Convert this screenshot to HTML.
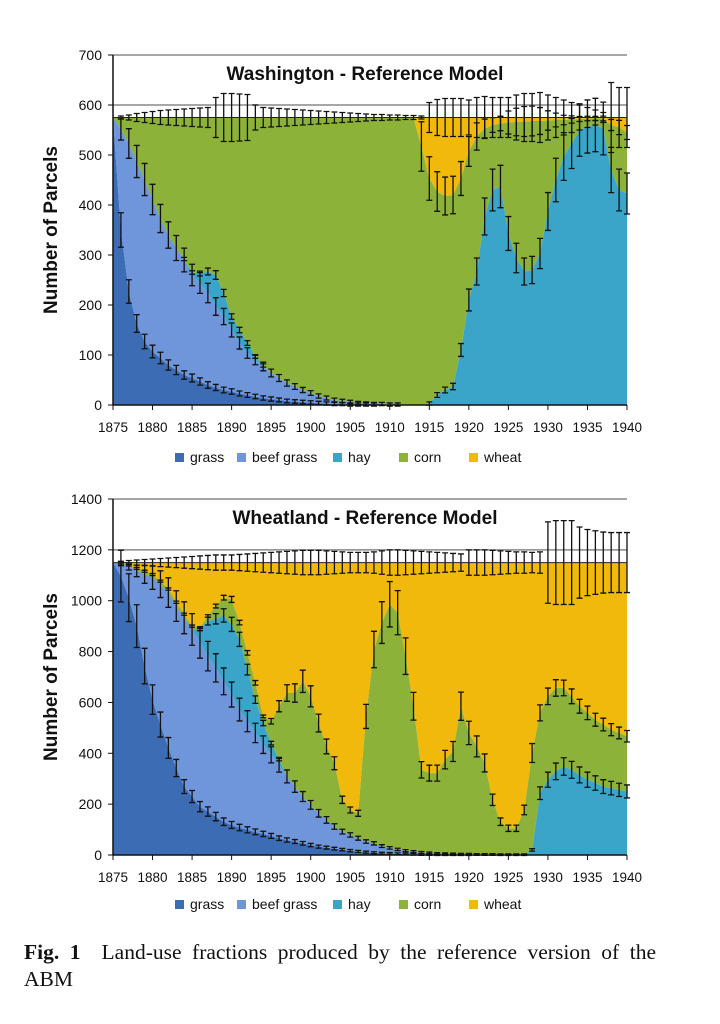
<!DOCTYPE html>
<html><head><meta charset="utf-8">
<style>
body{margin:0;background:#fff;width:720px;height:1024px;overflow:hidden;position:relative;font-family:"Liberation Sans",sans-serif}
svg{position:absolute;left:0;top:0}
.cap{position:absolute;left:24px;width:632px;font-family:"Liberation Serif",serif;font-size:21.5px;line-height:27px;color:#111;white-space:nowrap}
.l1{top:939px;text-align:justify;text-align-last:justify}
.l2{top:966px}
</style></head><body>
<svg id="chart" width="720" height="1024"></svg>
<div class="cap l1"><b>Fig. 1</b>&nbsp; Land-use fractions produced by the reference version of the</div>
<div class="cap l2">ABM</div>
<script>
const years = [];
for (let y = 1875; y <= 1940; y++) years.push(y);
const seriesNames = ["grass","beef grass","hay","corn","wheat"];
const seriesColors = ["#3c6db4","#6f95da","#3aa5c9","#8db23a","#f0b90c"];

// Washington
const waGrass = [575,350,227,163,127,107,94,80,70,60,54,47,40,35,30,27,23,20,17,14,12,10,8,7,6,5,4,3,2,2,1,1,1,1,0,0,0,0,0,0,0,0,0,0,0,0,0,0,0,0,0,0,0,0,0,0,0,0,0,0,0,0,0,0,0,0];
const waBeef = [0,201,296,324,324,304,279,260,244,230,206,197,184,162,147,123,101,84,73,63,52,44,36,30,24,19,14,11,8,6,5,3,2,1,2,1,1,0,0,0,0,0,0,0,0,0,0,0,0,0,0,0,0,0,0,0,0,0,0,0,0,0,0,0,0,0];
const waHay = [0,0,0,0,0,0,0,0,0,2,5,19,43,63,47,27,26,20,7,2,0,0,0,0,0,0,0,0,0,0,0,0,0,0,0,0,0,0,0,0,3,20,30,37,110,210,267,377,430,437,343,294,267,270,303,387,450,497,523,550,557,560,553,470,430,423];
const waCorn = [0,24,52,88,124,164,202,235,261,283,310,312,308,315,351,398,425,451,478,496,511,521,531,538,545,551,557,561,565,567,569,571,572,573,573,574,574,575,575,517,450,407,388,383,343,297,270,176,130,126,222,272,300,298,265,182,120,73,48,22,16,13,20,90,125,122];
const waWheat = [0,0,0,0,0,0,0,0,0,0,0,0,0,0,0,0,0,0,0,0,0,0,0,0,0,0,0,0,0,0,0,0,0,0,0,0,0,0,0,58,122,148,157,155,122,68,38,22,15,12,10,9,8,7,7,6,5,5,4,3,2,2,2,15,20,30];
const waTotalErr = [0,3,5,8,10,12,14,15,16,17,18,19,20,40,48,48,47,46,25,20,19,18,17,16,15,14,13,12,11,10,9,8,7,6,6,5,5,4,4,3,30,36,38,38,38,35,40,42,40,40,40,45,48,48,50,45,40,35,30,25,20,15,10,70,60,60];
const waTicks = [0,100,200,300,400,500,600,700];

// Wheatland
const whGrass = [1150,1097,1012,900,743,611,513,421,342,269,230,190,171,151,131,118,108,99,91,83,75,66,59,53,46,39,33,29,25,21,17,14,11,9,7,6,5,4,3,2,2,1,1,1,1,1,0,0,0,0,0,0,0,0,0,0,0,0,0,0,0,0,0,0,0,0];
const whBeef = [0,48,123,217,361,480,552,611,637,664,657,645,611,585,552,513,464,427,389,351,319,289,250,216,184,158,131,109,87,71,62,52,42,37,28,22,17,13,10,8,6,5,4,3,2,2,2,2,2,1,1,1,1,0,0,0,0,0,0,0,0,0,0,0,0,0];
const whHay = [0,0,0,0,0,0,0,0,0,0,0,55,138,193,259,276,276,203,131,85,46,20,0,0,0,0,0,0,0,0,0,0,0,0,0,0,0,0,0,0,0,0,0,0,0,0,0,0,0,0,0,0,0,20,243,296,329,348,335,315,296,283,269,263,256,250];
const whCorn = [0,2,5,10,12,12,12,14,15,14,13,4,20,50,70,98,66,66,66,26,86,210,328,368,453,427,355,289,249,125,98,98,492,762,879,958,931,765,572,325,314,316,370,403,582,477,425,360,215,130,104,104,176,381,316,328,328,309,289,270,263,249,244,230,224,217];
const whWheat = [0,3,10,23,34,47,73,104,156,203,250,256,210,171,138,145,236,355,473,605,624,565,513,513,467,526,631,723,789,933,973,986,605,342,236,164,197,368,565,815,828,828,775,743,565,670,723,788,933,1019,1045,1045,973,749,591,526,493,493,526,565,591,618,637,657,670,683];
const whTotalErr = [0,5,8,10,12,14,16,18,20,22,24,26,28,30,30,30,32,34,36,38,40,42,44,46,48,48,48,46,44,42,40,40,40,42,46,50,50,48,46,44,42,40,38,36,34,50,50,50,48,46,44,42,42,40,42,160,165,165,165,140,130,125,120,118,118,118];
const whTicks = [0,200,400,600,800,1000,1200,1400];
const xTicks = [1875,1880,1885,1890,1895,1900,1905,1910,1915,1920,1925,1930,1935,1940];

const NS = "http://www.w3.org/2000/svg";
const svg = document.getElementById("chart");
function mk(tag, attrs, parent) {
  const e = document.createElementNS(NS, tag);
  for (const k in attrs) e.setAttribute(k, attrs[k]);
  (parent || svg).appendChild(e);
  return e;
}

function drawChart(prefix, title, series, totalErr, ticks, yMax, top, bottom, legendY) {
  const x0 = 113, x1 = 627;
  const xs = y => x0 + (y - 1875) * (x1 - x0) / 65;
  const ys = v => bottom - v * (bottom - top) / yMax;
  const g = mk("g", {});
  
  
  const gridVals = [ticks[ticks.length-1], ticks[ticks.length-2]];
  const cum = years.map(() => 0);
  const bounds = [];
  series.forEach((s, si) => {
    const lower = cum.slice();
    years.forEach((_, i) => cum[i] += s[i]);
    const upper = cum.slice();
    bounds.push({lower, upper, vals: s});
    let d = "M" + years.map((y, i) => xs(y).toFixed(1) + "," + ys(upper[i]).toFixed(1)).join(" L");
    for (let i = years.length - 1; i >= 0; i--) d += " L" + xs(years[i]).toFixed(1) + "," + ys(lower[i]).toFixed(1);
    d += "Z";
    const p = mk("path", {d: d, fill: seriesColors[si], stroke: "none"}, g);
    
    
  });
  gridVals.forEach(t => {
    const l = mk("line", {x1: x0, x2: x1, y1: ys(t), y2: ys(t), stroke: "#888", "stroke-width": 1.5}, g);
    
    
  });
  const eg = mk("g", {stroke: "#111", "stroke-width": 1.3, fill: "none"}, g);
  
  
  const last = series.length - 1;
  bounds.forEach((b, si) => {
    years.forEach((y, i) => {
      let e;
      if (si === last) e = totalErr[i];
      else {
        if (b.vals[i] <= 0) return;
        if (b.upper[i] >= bounds[last].upper[i] - 1) return;
        e = 3 + 0.09 * b.vals[i];
      }
      const v = b.upper[i];
      if (e <= 0) return;
      const x = xs(y), ya = ys(v + e), yb = ys(v - e);
      mk("path", {d: `M${x},${ya} V${yb} M${x-3},${ya} H${x+3} M${x-3},${yb} H${x+3}`}, eg);
    });
  });
  const tl = mk("path", {d: "M" + years.map((y, i) => xs(y) + "," + ys(bounds[last].upper[i])).join(" L"), stroke: "#222", "stroke-width": 1, fill: "none"}, g);
  
  
  const ax = mk("path", {d: `M${x0},${top} V${bottom} H${x1}`, stroke: "#111", "stroke-width": 1.5, fill: "none"}, g);
  
  
  ticks.forEach(t => {
    mk("line", {x1: x0 - 5, x2: x0, y1: ys(t), y2: ys(t), stroke: "#111", "stroke-width": 1}, g);
    const tx = mk("text", {x: x0 - 11, y: ys(t) + 5, "text-anchor": "end", "font-size": 14, fill: "#111"}, g);
    tx.textContent = t;
    
    
  });
  xTicks.forEach(t => {
    mk("line", {x1: xs(t), x2: xs(t), y1: bottom, y2: bottom + 5, stroke: "#111", "stroke-width": 1}, g);
    const tx = mk("text", {x: xs(t), y: bottom + 27, "text-anchor": "middle", "font-size": 13.5, fill: "#111"}, g);
    tx.textContent = t;
    
    
  });
  const tt = mk("text", {x: 365, y: top + 25, "text-anchor": "middle", "font-size": 19, "font-weight": "bold", fill: "#111"}, g);
  tt.textContent = title;
  
  
  const yt = mk("text", {x: 0, y: 0, transform: `translate(57,${(top + bottom) / 2}) rotate(-90)`, "text-anchor": "middle", "font-size": 19, "font-weight": "bold", fill: "#111"}, g);
  yt.textContent = "Number of Parcels";
  
  
  const lx = [175, 237, 333, 399, 469];
  seriesNames.forEach((n, i) => {
    const lg = mk("g", {}, g);
    
    
    mk("rect", {x: lx[i], y: legendY - 8, width: 9, height: 9, fill: seriesColors[i]}, lg);
    const t = mk("text", {x: lx[i] + 15, y: legendY + 1, "font-size": 14, fill: "#111"}, lg);
    t.textContent = n;
  });
}

drawChart("washington", "Washington - Reference Model",
  [waGrass, waBeef, waHay, waCorn, waWheat], waTotalErr, waTicks, 700, 55, 405, 461);
drawChart("wheatland", "Wheatland - Reference Model",
  [whGrass, whBeef, whHay, whCorn, whWheat], whTotalErr, whTicks, 1400, 499, 855, 908);
</script>
</body></html>
